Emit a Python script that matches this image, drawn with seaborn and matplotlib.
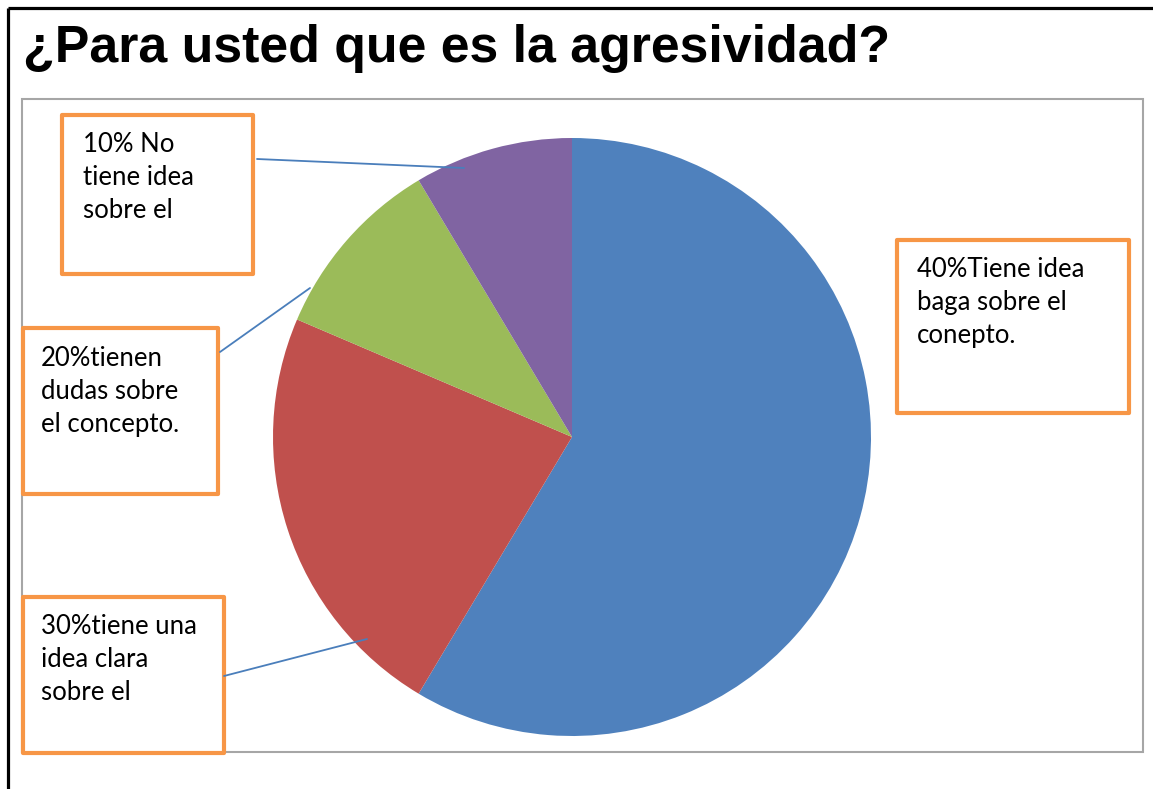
import matplotlib
matplotlib.use("Agg")
import matplotlib.pyplot as plt
from matplotlib.patches import Rectangle
import seaborn as sns

# ---- data ----
categories = ["Tiene idea vaga", "Idea clara", "Dudas", "No tiene idea"]
values = [41, 16, 7, 6]
colors = ["#4F81BD", "#C0504D", "#9BBB59", "#8064A2"]
title = "¿Para usted que es la agresividad?"
label_texts = [
    "40%Tiene idea\nbaga sobre el\nconepto.",
    "30%tiene una\nidea clara\nsobre el",
    "20%tienen\ndudas sobre\nel concepto.",
    "10% No\ntiene idea\nsobre el",
]

sns.set_theme(style="white")
plt.rcParams["font.family"] = ["Lato", "DejaVu Sans"]

W, H = 1153, 789
fig = plt.figure(figsize=(W / 100, H / 100), dpi=100)
fig.patch.set_facecolor("white")

# overlay axes in pixel coordinates
ov = fig.add_axes([0, 0, 1, 1])
ov.set_xlim(0, W)
ov.set_ylim(H, 0)
ov.axis("off")

# outer black frame (top and left)
ov.plot([8, W], [8, 8], color="black", lw=2.3, solid_capstyle="butt")
ov.plot([8, 8], [8, H], color="black", lw=2.3, solid_capstyle="butt")

# chart area frame
ov.add_patch(Rectangle((22, 99), 1121, 653, fill=False, edgecolor="#A6A6A6", lw=1.5))

# title
ov.text(23, 62, title, fontsize=37.4, fontweight="bold", family=["Liberation Sans", "DejaVu Sans"],
        ha="left", va="baseline", color="black")

# pie
cx, cy, r = 572, 437, 299
pax = fig.add_axes([(cx - r) / W, (H - cy - r) / H, 2 * r / W, 2 * r / H])
pax.pie(values, colors=colors, startangle=90, counterclock=False,
        wedgeprops=dict(linewidth=0))
pax.set_xlim(-1, 1)
pax.set_ylim(-1, 1)
pax.set_aspect("equal")
pax.axis("off")

ov2 = fig.add_axes([0, 0, 1, 1])
ov2.set_xlim(0, W)
ov2.set_ylim(H, 0)
ov2.axis("off")
ov2.patch.set_alpha(0)

# leader lines
lead = "#4A7EBB"
ov2.plot([257, 464], [159, 168], color=lead, lw=1.3)
ov2.plot([220, 310], [352, 288], color=lead, lw=1.3)
ov2.plot([224, 367], [676, 639], color=lead, lw=1.3)

# label boxes: (x0, y0, x1, y1, text_x, first_baseline)
boxes = [
    (897, 240, 1129, 413, 917, 277),
    (23, 597, 224, 753, 41, 634),
    (23, 328, 218, 494, 41, 366),
    (62, 115, 253, 274, 83, 152),
]
for (x0, y0, x1, y1, tx, ty), txt in zip(boxes, label_texts):
    ov2.add_patch(Rectangle((x0, y0), x1 - x0, y1 - y0, facecolor="white",
                            edgecolor="#F79646", lw=3, joinstyle="round"))
    for i, line in enumerate(txt.split("\n")):
        ov2.text(tx, ty + i * 33, line, fontsize=18.5, ha="left", va="baseline", color="black")

fig.savefig("out.png", dpi=100)
